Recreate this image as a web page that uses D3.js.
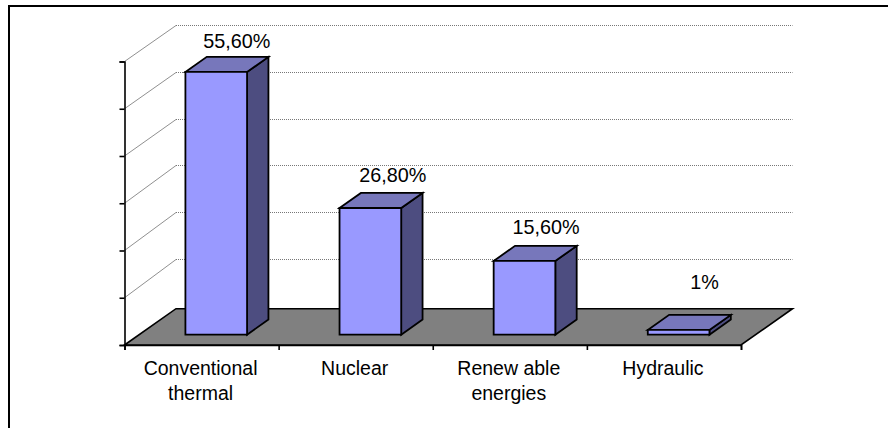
<!DOCTYPE html>
<html><head><meta charset="utf-8">
<script src="https://d3js.org/d3.v7.min.js"></script>
<style>html,body{margin:0;padding:0;background:#fff}svg{display:block}text{font-family:"Liberation Sans",Arial,sans-serif;fill:#000}</style>
</head><body><svg id="c" width="888" height="428"></svg>
<script>
const categories = ["Conventional thermal","Nuclear","Renewable energies","Hydraulic"];
const categoryLines = [["Conventional","thermal"],["Nuclear"],["Renew able","energies"],["Hydraulic"]];
const values = [55.6,26.8,15.6,1];
const valueLabels = ["55,60%","26,80%","15,60%","1%"];
const yTicks = [0,10,20,30,40,50,60];
const labelNudgeX = [20.5,22.5,21.5,26];
const labelNudgeY = [24,26,27,40.5];

const svg = d3.select("#c");
const x = d3.scaleBand().domain(categories).range([124.5,741]).paddingInner(0.6).paddingOuter(0.3);
const xEdge = d3.scaleLinear().domain([0,4]).range([124.5,741]);
const y = d3.scaleLinear().domain([0,60]).range([345,61.5]);
const yBack = d3.scaleLinear().domain([10,60]).range([259,25]);
const zx = d3.scaleLinear().domain([0,1]).range([0,51.5]);
const zy = d3.scaleLinear().domain([0,1]).range([0,-36.3]);
const P = (px,v,z)=>[px+zx(z), y(v)+zy(z)];
const poly = pts => "M"+pts.map(p=>p.join(",")).join("L")+"Z";
const L0=124.5, R0=741;

svg.append("rect").attr("x",9).attr("y",6).attr("width",900).attr("height",440)
  .attr("fill","#fff").attr("stroke","#000").attr("stroke-width",2);

// walls: grid
yTicks.slice(1).forEach(t=>{
  const a=[L0,y(t)], by=Math.round(yBack(t))+.5, bx=L0+zx(1), cx=R0+zx(1);
  svg.append("line").attr("x1",a[0]).attr("y1",a[1]).attr("x2",bx).attr("y2",by).attr("stroke","#909090").attr("stroke-width",1);
  svg.append("line").attr("x1",bx).attr("y1",by).attr("x2",cx).attr("y2",by)
    .attr("stroke","#777").attr("stroke-width",1).attr("stroke-dasharray","1 1");
});

// floor
svg.append("path").attr("d",poly([P(L0,0,0),P(L0,0,1),P(R0,0,1),P(R0,0,0)]))
  .attr("fill","#808080").attr("stroke","#000").attr("stroke-width",1.6).attr("stroke-linejoin","miter");

// axes
const axL = svg.append("g").attr("transform",`translate(${L0},0)`)
  .call(d3.axisLeft(y).tickValues(yTicks).tickSize(5).tickFormat(""));
const axB = svg.append("g").attr("transform",`translate(0,345)`)
  .call(d3.axisBottom(xEdge).tickValues([0,1,2,3,4]).tickSize(5).tickFormat(""));
[axL,axB].forEach(g=>{g.selectAll("path").attr("stroke","#000").attr("stroke-width",1.6);
  g.selectAll("line").attr("stroke","#000").attr("stroke-width",1.6);});

// bars
const zA=0.285, zB=0.70;
const bars = svg.selectAll("g.bar").data(categories).enter().append("g").attr("class","bar");
bars.each(function(c,i){
  const g=d3.select(this), l=x(c), r=l+x.bandwidth(), v=values[i];
  const st={stroke:"#000","stroke-width":1.8,"stroke-linejoin":"miter"};
  const face=(pts,f)=>{const p=g.append("path").attr("d",poly(pts)).attr("fill",f);
    Object.entries(st).forEach(([k,w])=>p.attr(k,w));};
  face([P(r,0,zA),P(r,0,zB),P(r,v,zB),P(r,v,zA)],"#4d4d80");
  face([P(l,v,zA),P(l,v,zB),P(r,v,zB),P(r,v,zA)],"#7777bb");
  face([P(l,0,zA),P(l,v,zA),P(r,v,zA),P(r,0,zA)],"#9999ff");
  const top=P(l,v,zA);
  g.append("text").attr("x",top[0]+x.bandwidth()/2+labelNudgeX[i]).attr("y",top[1]-labelNudgeY[i])
    .attr("text-anchor","middle").attr("font-size",19.8).text(valueLabels[i]);
  categoryLines[i].forEach((t,k)=>{
    g.append("text").attr("x",l+x.bandwidth()/2-1).attr("y",374.7+k*25.3)
      .attr("text-anchor","middle").attr("font-size",19.5).text(t);
  });
});
</script></body></html>
